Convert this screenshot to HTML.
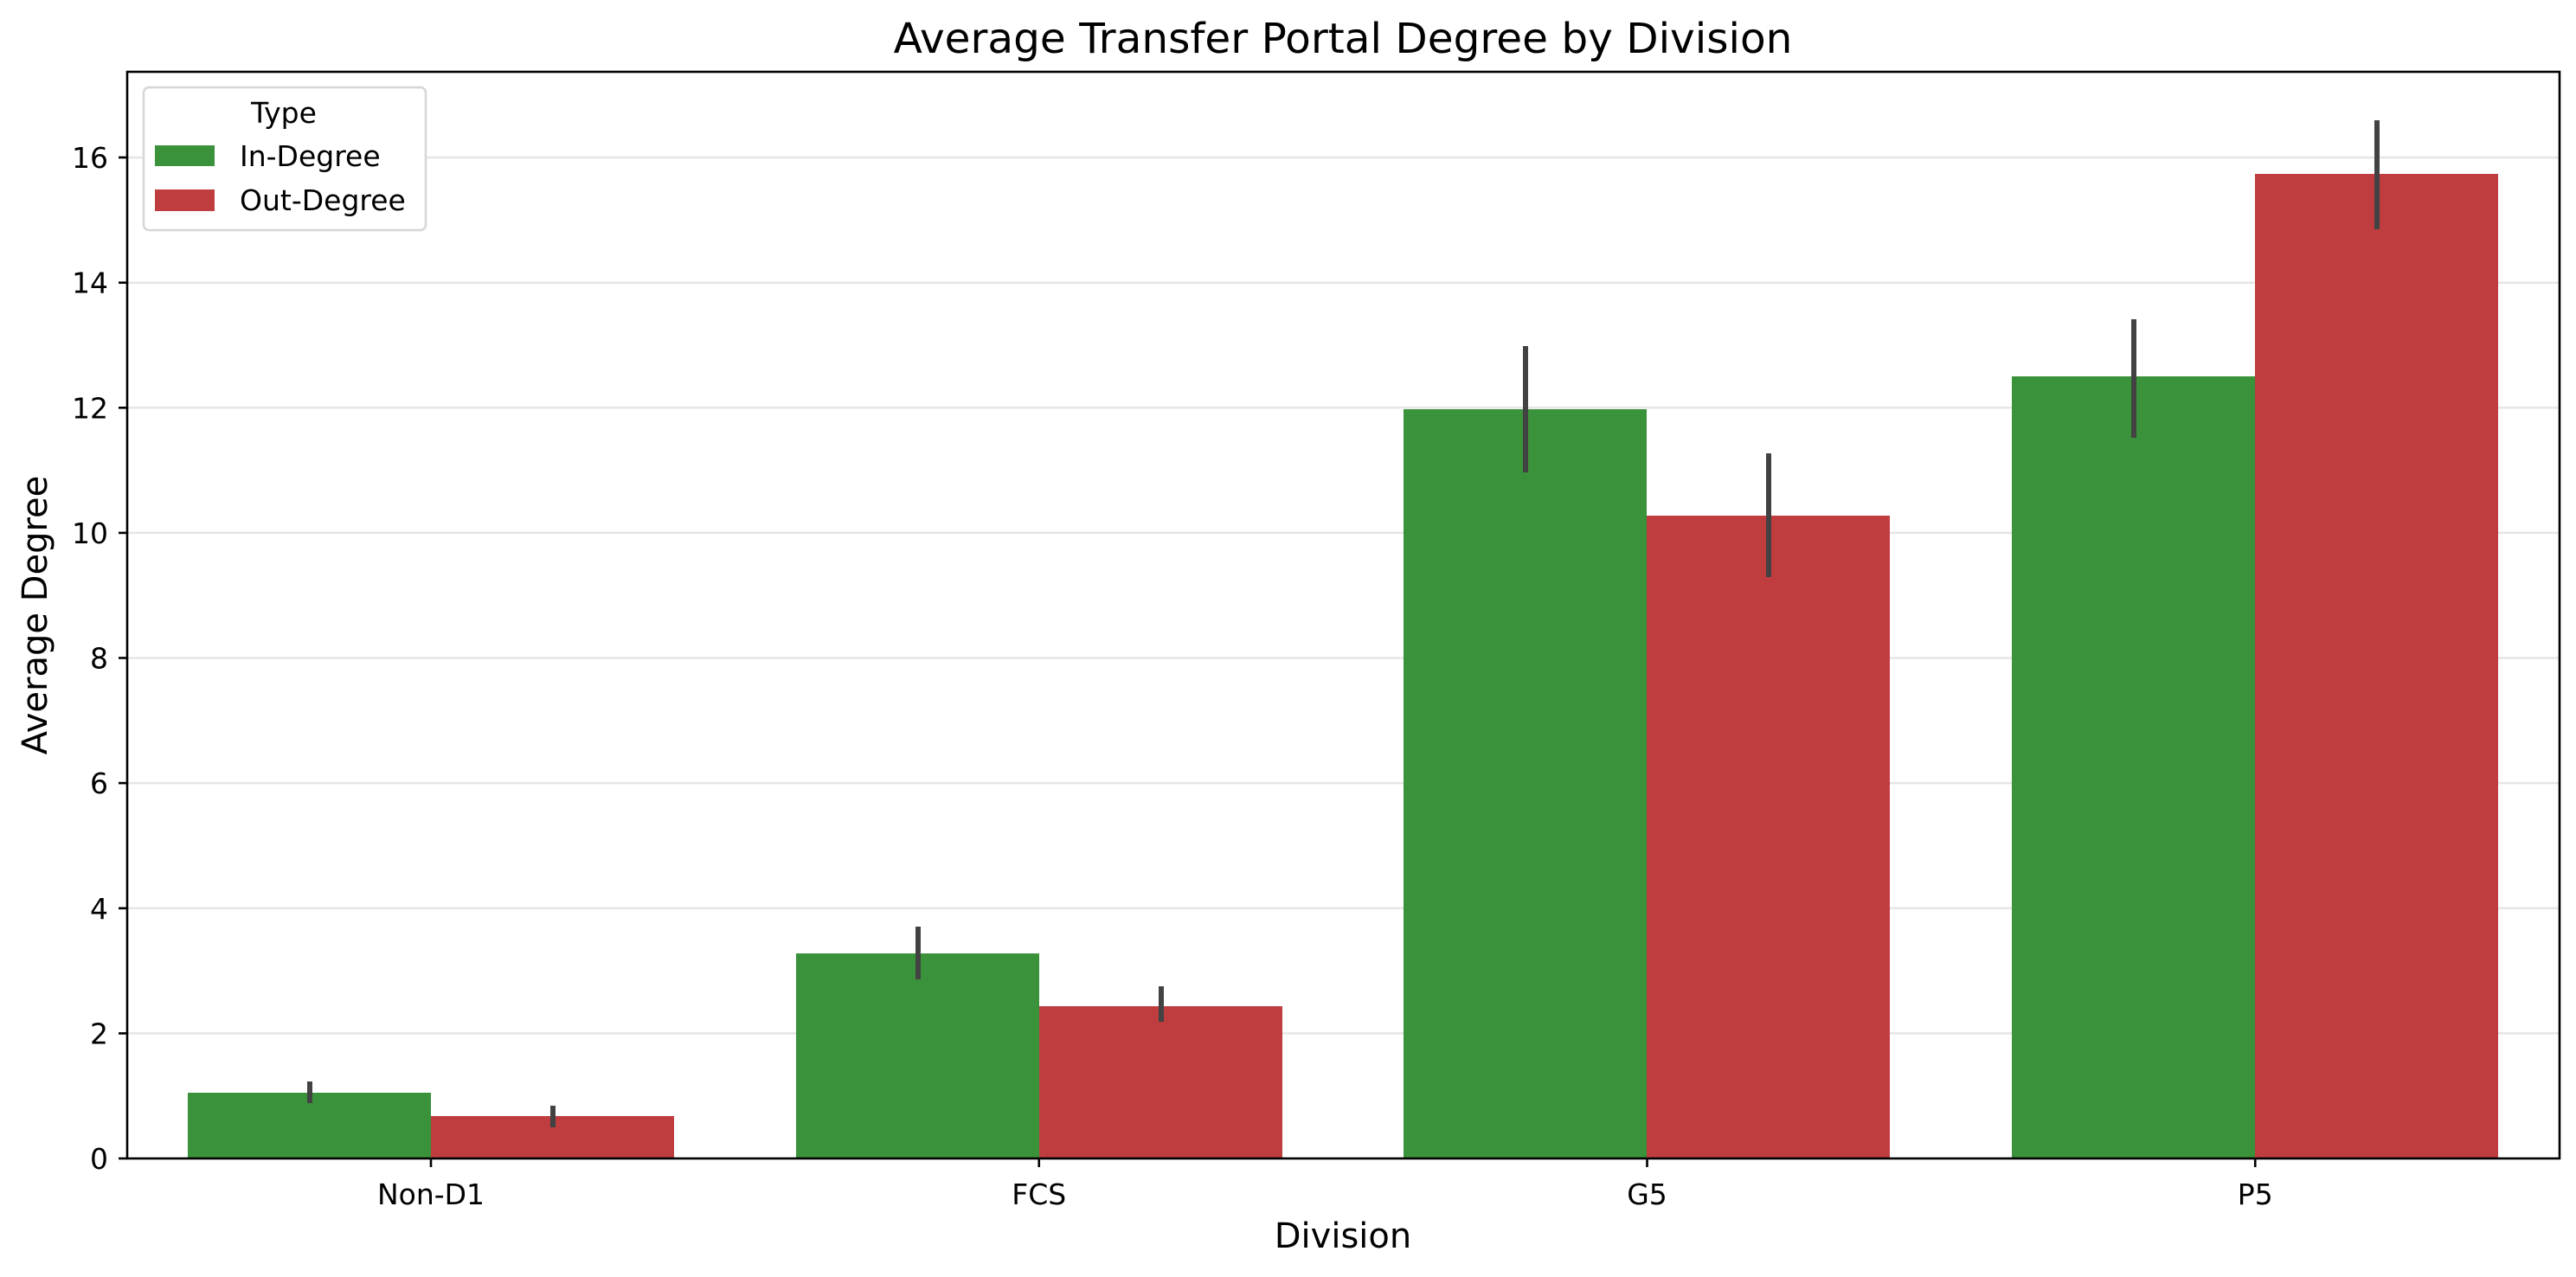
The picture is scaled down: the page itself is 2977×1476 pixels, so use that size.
<!DOCTYPE html>
<html><head><style>html,body{margin:0;padding:0;background:#fff}svg{display:block}text{font-family:"DejaVu Sans","Liberation Sans",sans-serif;fill:#000}</style></head>
<body>
<svg width="2977" height="1476" viewBox="0 0 2977 1476" xmlns="http://www.w3.org/2000/svg">
<rect width="2977" height="1476" fill="#fff"/>
<g stroke="#e5e5e5" stroke-width="2.5">
<line x1="147" x2="2958" y1="1194.4" y2="1194.4"/>
<line x1="147" x2="2958" y1="1049.8" y2="1049.8"/>
<line x1="147" x2="2958" y1="905.1" y2="905.1"/>
<line x1="147" x2="2958" y1="760.5" y2="760.5"/>
<line x1="147" x2="2958" y1="615.9" y2="615.9"/>
<line x1="147" x2="2958" y1="471.3" y2="471.3"/>
<line x1="147" x2="2958" y1="326.7" y2="326.7"/>
<line x1="147" x2="2958" y1="182" y2="182"/>
</g>
<g fill="#3a923a">
<rect x="217" y="1263" width="281" height="76"/>
<rect x="920" y="1102" width="281" height="237"/>
<rect x="1622" y="473" width="281" height="866"/>
<rect x="2325" y="435" width="281" height="904"/>
</g>
<g fill="#bf3d3e">
<rect x="498" y="1290" width="281" height="49"/>
<rect x="1201" y="1163" width="281" height="176"/>
<rect x="1903" y="596" width="281" height="743"/>
<rect x="2606" y="201" width="281" height="1138"/>
</g>
<g stroke="#424242" stroke-width="6">
<line x1="358" x2="358" y1="1250" y2="1275"/>
<line x1="639" x2="639" y1="1278" y2="1303"/>
<line x1="1061" x2="1061" y1="1071" y2="1132"/>
<line x1="1342" x2="1342" y1="1140" y2="1181"/>
<line x1="1763" x2="1763" y1="400" y2="546"/>
<line x1="2044" x2="2044" y1="524" y2="667"/>
<line x1="2466" x2="2466" y1="369" y2="506"/>
<line x1="2747" x2="2747" y1="139" y2="265"/>
</g>
<rect x="147" y="83" width="2811" height="1256" fill="none" stroke="#000" stroke-width="2.6"/>
<g stroke="#000" stroke-width="2.6">
<line x1="137" x2="147" y1="1339" y2="1339"/>
<line x1="137" x2="147" y1="1194.4" y2="1194.4"/>
<line x1="137" x2="147" y1="1049.8" y2="1049.8"/>
<line x1="137" x2="147" y1="905.1" y2="905.1"/>
<line x1="137" x2="147" y1="760.5" y2="760.5"/>
<line x1="137" x2="147" y1="615.9" y2="615.9"/>
<line x1="137" x2="147" y1="471.3" y2="471.3"/>
<line x1="137" x2="147" y1="326.7" y2="326.7"/>
<line x1="137" x2="147" y1="182" y2="182"/>
<line x1="498" x2="498" y1="1339" y2="1349"/>
<line x1="1200.75" x2="1200.75" y1="1339" y2="1349"/>
<line x1="1903.5" x2="1903.5" y1="1339" y2="1349"/>
<line x1="2606.25" x2="2606.25" y1="1339" y2="1349"/>
</g>
<g font-size="33" text-anchor="end">
<text x="125" y="1351">0</text>
<text x="125" y="1206.4">2</text>
<text x="125" y="1061.8">4</text>
<text x="125" y="917.1">6</text>
<text x="125" y="772.5">8</text>
<text x="125" y="627.9">10</text>
<text x="125" y="483.3">12</text>
<text x="125" y="338.7">14</text>
<text x="125" y="194">16</text>
</g>
<g font-size="33" text-anchor="middle">
<text x="498" y="1392">Non-D1</text>
<text x="1200.75" y="1392">FCS</text>
<text x="1903.5" y="1392">G5</text>
<text x="2606.25" y="1392">P5</text>
</g>
<text x="1552" y="1442" font-size="40" text-anchor="middle">Division</text>
<text transform="translate(54,711) rotate(-90)" font-size="40" text-anchor="middle">Average Degree</text>
<text x="1552" y="61" font-size="48.5" text-anchor="middle">Average Transfer Portal Degree by Division</text>
<rect x="166" y="101" width="326" height="165" rx="6" fill="#fff" stroke="#d6d6d6" stroke-width="2.5"/>
<text x="328" y="142" font-size="33" text-anchor="middle">Type</text>
<rect x="179" y="168" width="69" height="24" fill="#3a923a"/>
<rect x="179" y="219" width="69" height="25" fill="#bf3d3e"/>
<text x="277" y="192" font-size="33">In-Degree</text>
<text x="277" y="243" font-size="33">Out-Degree</text>
</svg>
</body></html>
